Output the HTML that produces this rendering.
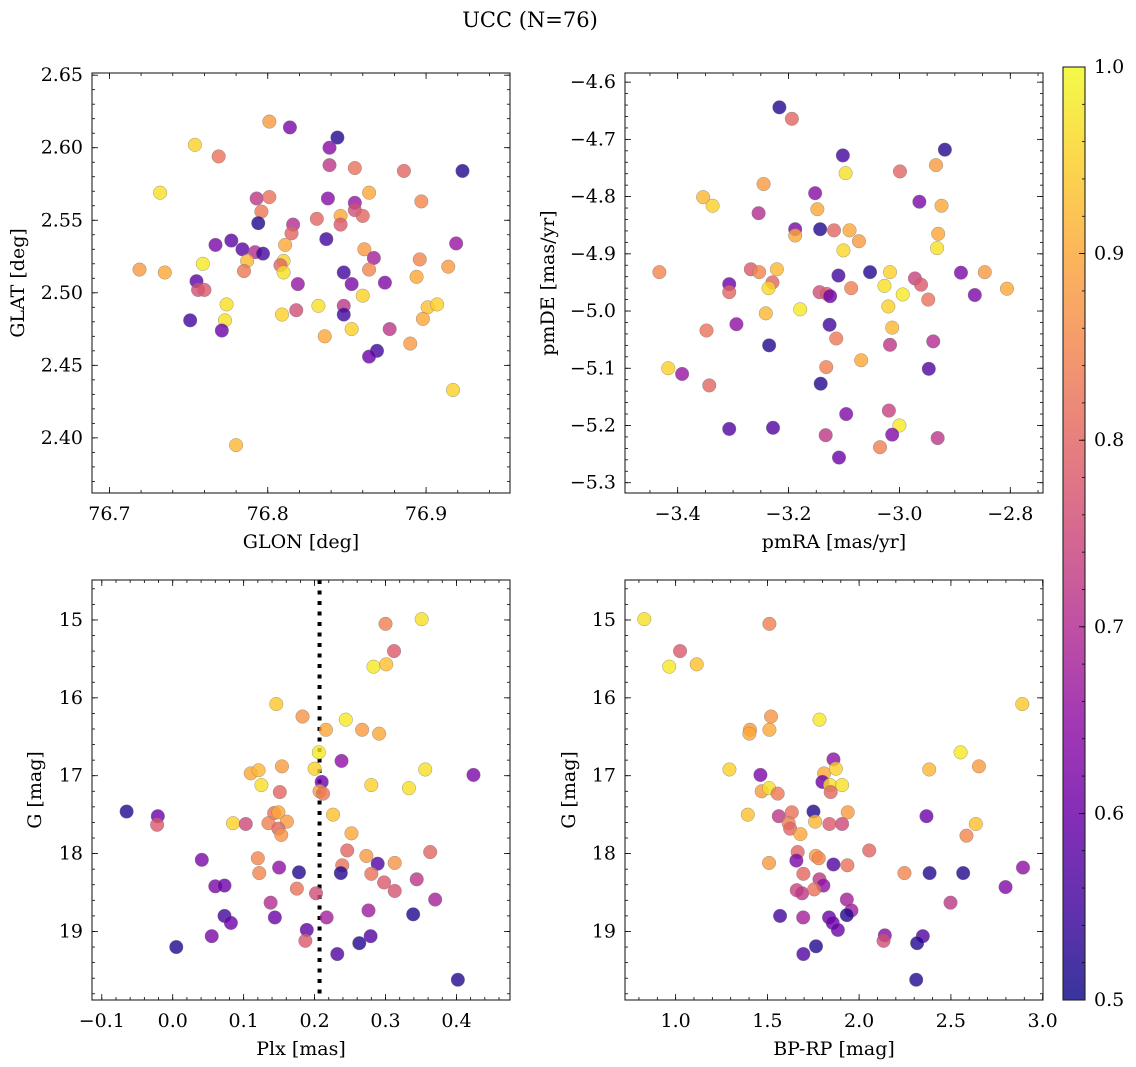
<!DOCTYPE html>
<html><head><meta charset="utf-8">
<style>
html,body{margin:0;padding:0;background:#fff;}
svg{display:block;font-family:"DejaVu Serif","Liberation Serif",serif;}
</style></head>
<body>
<svg id="fig" width="1136" height="1067" viewBox="0 0 1136 1067" xmlns="http://www.w3.org/2000/svg">
<text x="530" y="27" font-size="21" text-anchor="middle">UCC (N=76)</text>
</svg>
<script>
// ---- data: panel 1 (GLON vs GLAT) ----
const glonTL=[76.801,76.814,76.844,76.754,76.839,76.769,76.839,76.855,76.886,76.923,76.732,76.864,76.793,76.801,76.838,76.897,76.855,76.796,76.855,76.860,76.831,76.846,76.846,76.794,76.816,76.815,76.777,76.767,76.837,76.811,76.919,76.784,76.792,76.797,76.861,76.867,76.787,76.810,76.896,76.719,76.735,76.759,76.785,76.808,76.810,76.864,76.914,76.848,76.755,76.756,76.760,76.819,76.853,76.874,76.894,76.860,76.774,76.832,76.848,76.848,76.901,76.907,76.818,76.751,76.773,76.809,76.898,76.771,76.853,76.836,76.877,76.890,76.869,76.864,76.917,76.780];
const glatTL=[2.618,2.614,2.607,2.602,2.600,2.594,2.588,2.586,2.584,2.584,2.569,2.569,2.565,2.566,2.565,2.563,2.562,2.556,2.557,2.553,2.551,2.553,2.547,2.548,2.547,2.541,2.536,2.533,2.537,2.533,2.534,2.530,2.528,2.527,2.530,2.524,2.522,2.522,2.523,2.516,2.514,2.520,2.515,2.519,2.514,2.516,2.518,2.514,2.508,2.502,2.502,2.506,2.506,2.507,2.511,2.498,2.492,2.491,2.491,2.485,2.490,2.492,2.488,2.481,2.481,2.485,2.482,2.474,2.475,2.470,2.475,2.465,2.460,2.456,2.433,2.395];
const probTL=[0.88,0.62,0.52,0.95,0.64,0.82,0.72,0.82,0.80,0.52,0.97,0.9,0.72,0.82,0.64,0.85,0.66,0.83,0.76,0.8,0.8,0.9,0.78,0.52,0.7,0.8,0.58,0.62,0.55,0.9,0.66,0.58,0.7,0.55,0.88,0.68,0.92,0.95,0.85,0.88,0.9,0.98,0.83,0.8,0.97,0.85,0.88,0.55,0.58,0.76,0.78,0.66,0.62,0.63,0.9,0.95,0.97,0.97,0.72,0.55,0.93,0.95,0.76,0.55,0.97,0.95,0.9,0.6,0.95,0.9,0.72,0.88,0.55,0.6,0.95,0.92];
// ---- data: panel 2 (pmRA vs pmDE) ----
const pmraTR=[-3.2165,-3.194,-3.102,-2.918,-2.999,-2.934,-3.097,-3.245,-3.354,-3.337,-3.152,-3.148,-3.254,-2.964,-2.924,-3.188,-3.188,-3.143,-3.118,-3.090,-3.073,-2.930,-3.101,-2.932,-3.433,-3.268,-3.253,-3.221,-3.229,-3.236,-3.307,-3.307,-3.110,-3.053,-3.017,-3.027,-3.144,-3.131,-3.125,-3.087,-2.994,-2.972,-2.961,-2.948,-2.889,-2.864,-2.846,-2.806,-3.179,-3.241,-3.020,-3.013,-3.348,-3.294,-3.126,-3.114,-3.235,-3.017,-2.939,-3.069,-3.132,-2.947,-3.417,-3.392,-3.343,-3.142,-3.096,-3.019,-3.307,-3.228,-3.000,-3.013,-3.133,-2.931,-3.035,-3.109];
const pmdeTR=[-4.644,-4.664,-4.728,-4.718,-4.756,-4.745,-4.759,-4.778,-4.801,-4.816,-4.794,-4.822,-4.829,-4.809,-4.816,-4.857,-4.868,-4.857,-4.859,-4.859,-4.878,-4.865,-4.894,-4.890,-4.932,-4.927,-4.932,-4.927,-4.950,-4.960,-4.953,-4.967,-4.938,-4.932,-4.932,-4.956,-4.967,-4.970,-4.974,-4.960,-4.971,-4.943,-4.954,-4.980,-4.933,-4.972,-4.932,-4.961,-4.997,-5.004,-4.992,-5.029,-5.034,-5.023,-5.024,-5.048,-5.060,-5.059,-5.053,-5.086,-5.098,-5.101,-5.100,-5.110,-5.130,-5.127,-5.180,-5.174,-5.206,-5.204,-5.200,-5.216,-5.217,-5.222,-5.238,-5.256];
const probTR=[0.52,0.8,0.55,0.52,0.8,0.88,0.97,0.88,0.92,0.95,0.64,0.9,0.7,0.62,0.9,0.62,0.9,0.52,0.8,0.9,0.88,0.9,0.96,0.97,0.85,0.78,0.85,0.92,0.8,0.96,0.6,0.8,0.55,0.52,0.95,0.97,0.76,0.78,0.6,0.84,0.98,0.74,0.78,0.82,0.62,0.62,0.88,0.9,0.98,0.92,0.95,0.92,0.82,0.65,0.55,0.83,0.52,0.72,0.7,0.9,0.84,0.57,0.95,0.66,0.8,0.52,0.63,0.74,0.57,0.57,0.98,0.63,0.72,0.72,0.84,0.6];
// ---- data: panel 3 (Plx vs G) ----
const plxBL=[0.351,0.300,0.312,0.283,0.301,0.146,0.183,0.244,0.216,0.267,0.291,0.206,0.238,0.110,0.121,0.154,0.200,0.356,0.424,0.125,0.280,0.333,0.210,0.151,0.207,0.212,-0.065,-0.021,-0.022,0.085,0.103,0.143,0.149,0.135,0.161,0.149,0.153,0.226,0.252,0.246,0.363,0.041,0.120,0.122,0.150,0.178,0.239,0.237,0.273,0.289,0.313,0.280,0.298,0.313,0.344,0.370,0.060,0.073,0.175,0.202,0.138,0.144,0.073,0.082,0.217,0.276,0.339,0.189,0.187,0.055,0.005,0.263,0.279,0.232,0.402];
const gBL=[14.99,15.05,15.40,15.60,15.57,16.08,16.24,16.28,16.41,16.41,16.46,16.70,16.81,16.97,16.93,16.88,16.91,16.92,16.99,17.12,17.12,17.16,17.08,17.21,17.20,17.23,17.46,17.52,17.63,17.61,17.62,17.48,17.47,17.61,17.59,17.68,17.76,17.50,17.74,17.96,17.98,18.08,18.06,18.25,18.18,18.24,18.15,18.25,18.03,18.13,18.12,18.26,18.37,18.48,18.33,18.59,18.42,18.41,18.45,18.51,18.63,18.82,18.80,18.89,18.82,18.73,18.78,18.98,19.12,19.06,19.20,19.15,19.06,19.29,19.62];
const probBL=[0.97,0.84,0.78,0.98,0.93,0.94,0.87,0.98,0.9,0.88,0.9,0.98,0.65,0.9,0.92,0.88,0.95,0.97,0.62,0.97,0.95,0.97,0.6,0.8,0.88,0.83,0.52,0.6,0.78,0.95,0.75,0.82,0.9,0.84,0.88,0.8,0.87,0.93,0.9,0.8,0.8,0.62,0.85,0.85,0.65,0.52,0.82,0.52,0.88,0.57,0.87,0.82,0.78,0.77,0.72,0.68,0.62,0.6,0.82,0.76,0.7,0.6,0.55,0.6,0.68,0.67,0.52,0.58,0.78,0.62,0.52,0.52,0.57,0.57,0.52];
const plxMedian=[0.207];
// ---- data: panel 4 (BP-RP vs G) ----
const bprpBR=[0.829,1.511,1.024,0.965,1.115,2.889,1.520,1.784,1.511,1.405,1.402,2.553,1.860,2.653,1.293,1.462,1.809,1.873,2.382,1.800,1.842,1.907,1.469,1.509,1.556,1.845,1.751,1.393,1.562,2.367,1.633,1.938,1.616,1.760,1.838,1.907,1.624,1.680,2.636,2.585,1.665,2.055,1.509,1.658,1.764,1.780,1.860,1.936,1.696,2.247,2.384,2.567,2.893,1.784,1.805,1.660,1.689,1.755,2.798,1.933,2.498,1.958,1.569,1.695,1.836,1.933,1.856,1.884,2.140,2.133,2.347,2.316,1.765,1.696,2.311];
const gBR=[14.99,15.05,15.40,15.60,15.57,16.08,16.24,16.28,16.41,16.41,16.46,16.70,16.79,16.88,16.92,16.99,16.97,16.91,16.92,17.08,17.12,17.12,17.20,17.16,17.23,17.21,17.46,17.50,17.52,17.52,17.47,17.47,17.61,17.59,17.62,17.62,17.68,17.75,17.62,17.77,17.98,17.96,18.12,18.09,18.03,18.06,18.14,18.15,18.26,18.25,18.25,18.25,18.18,18.33,18.41,18.47,18.51,18.46,18.43,18.59,18.63,18.73,18.80,18.82,18.82,18.79,18.89,18.98,19.05,19.12,19.06,19.15,19.19,19.29,19.62];
const probBR=[0.97,0.84,0.78,0.98,0.93,0.94,0.87,0.98,0.9,0.88,0.9,0.98,0.65,0.88,0.95,0.62,0.9,0.95,0.92,0.6,0.97,0.97,0.88,0.97,0.83,0.8,0.52,0.93,0.72,0.6,0.82,0.88,0.84,0.92,0.78,0.75,0.8,0.9,0.93,0.85,0.8,0.8,0.88,0.62,0.88,0.85,0.57,0.82,0.8,0.85,0.52,0.52,0.65,0.72,0.65,0.74,0.72,0.82,0.63,0.68,0.72,0.67,0.55,0.68,0.6,0.52,0.6,0.6,0.64,0.76,0.57,0.52,0.52,0.57,0.52];
// ---- tick labels ----
const ticksTLx=[76.7,76.8,76.9], ticksTLy=[2.40,2.45,2.50,2.55,2.60,2.65];
const ticksTRx=[-3.4,-3.2,-3.0,-2.8], ticksTRy=[-5.3,-5.2,-5.1,-5.0,-4.9,-4.8,-4.7,-4.6];
const ticksBLx=[-0.1,0.0,0.1,0.2,0.3,0.4], ticksGy=[15,16,17,18,19];
const ticksBRx=[1.0,1.5,2.0,2.5,3.0];
const ticksCbar=[0.5,0.6,0.7,0.8,0.9,1.0];

const TICKFS=19, LABFS=19;
const NS="http://www.w3.org/2000/svg";
const svg=document.getElementById('fig');
function mk(tag,attrs,parent){const e=document.createElementNS(NS,tag);for(const k in attrs)e.setAttribute(k,attrs[k]);(parent||svg).appendChild(e);return e;}
const stops=[[13,8,135],[65,4,157],[106,0,168],[143,13,164],[177,42,144],[204,71,120],[225,100,98],[242,132,75],[252,166,54],[252,206,37],[240,249,33]];
function plasma(t){t=Math.max(0,Math.min(1,t))*10;const i=Math.min(9,Math.floor(t)),f=t-i;const a=stops[i],b=stops[i+1];return 'rgb('+a.map((v,k)=>Math.round(v+(b[k]-v)*f)).join(',')+')';}
function cval(p){return (p-0.5)/0.5;}
function fmt(v,d){return (v<0?'\u2212':'')+Math.abs(v).toFixed(d);}

function panel(cfg){
  const g=mk('g',{});
  
  
  const {x0,x1,y0,y1}=cfg;
  const sx=v=>x0+(v-cfg.xmin)/(cfg.xmax-cfg.xmin)*(x1-x0);
  const sy=cfg.invert? v=>y0+(v-cfg.ymin)/(cfg.ymax-cfg.ymin)*(y1-y0) : v=>y1-(v-cfg.ymin)/(cfg.ymax-cfg.ymin)*(y1-y0);
  const clip='clip-'+cfg.name;
  const cp=mk('clipPath',{id:clip},g);mk('rect',{x:x0,y:y0,width:x1-x0,height:y1-y0},cp);
  const pts=mk('g',{'clip-path':'url(#'+clip+')'},g);
  if(cfg.vline){
    const vl=mk('line',{x1:sx(cfg.vline[0]),x2:sx(cfg.vline[0]),y1:y0,y2:y1,stroke:'#000','stroke-width':4,'stroke-dasharray':'4 6.5'},pts);
    
    
  }
  for(let i=0;i<cfg.xs.length;i++){
    const c=mk('circle',{cx:sx(cfg.xs[i]),cy:sy(cfg.ys[i]),r:6.8,fill:plasma(cval(cfg.cs[i])),'fill-opacity':0.8,stroke:'#777','stroke-width':0.5,'stroke-opacity':0.7},pts);
    
    
  }
  const tk=mk('g',{stroke:'#000','stroke-width':0.8},g);
  for(let v=Math.ceil(cfg.xmin/cfg.xminor-1e-6)*cfg.xminor;v<=cfg.xmax+1e-9;v+=cfg.xminor){const X=sx(v);mk('line',{x1:X,x2:X,y1:y1,y2:y1-3},tk);mk('line',{x1:X,x2:X,y1:y0,y2:y0+3},tk);}
  const ylo=Math.min(cfg.ymin,cfg.ymax),yhi=Math.max(cfg.ymin,cfg.ymax);
  for(let v=Math.ceil(ylo/cfg.yminor-1e-6)*cfg.yminor;v<=yhi+1e-9;v+=cfg.yminor){const Y=sy(v);mk('line',{x1:x0,x2:x0+3,y1:Y,y2:Y},tk);mk('line',{x1:x1,x2:x1-3,y1:Y,y2:Y},tk);}
  cfg.xt.forEach(v=>{const X=sx(v);mk('line',{x1:X,x2:X,y1:y1,y2:y1-6},tk);mk('line',{x1:X,x2:X,y1:y0,y2:y0+6},tk);
    const t=mk('text',{x:X,y:y1+27,'font-size':TICKFS,'text-anchor':'middle'},g);t.textContent=fmt(v,cfg.xd);
    
    });
  cfg.yt.forEach(v=>{const Y=sy(v);mk('line',{x1:x0,x2:x0+6,y1:Y,y2:Y},tk);mk('line',{x1:x1,x2:x1-6,y1:Y,y2:Y},tk);
    const t=mk('text',{x:x0-9,y:Y+6,'font-size':TICKFS,'text-anchor':'end'},g);t.textContent=fmt(v,cfg.yd);
    
    });
  mk('rect',{x:x0,y:y0,width:x1-x0,height:y1-y0,fill:'none',stroke:'#222','stroke-width':1.1},g);
  const xl=mk('text',{x:(x0+x1)/2,y:y1+55,'font-size':LABFS,'text-anchor':'middle'},g);xl.textContent=cfg.xlab;
  
  
  const yx=cfg.ylx, yc=(y0+y1)/2;
  const yl=mk('text',{x:yx,y:yc,'font-size':LABFS,'text-anchor':'middle',transform:'rotate(-90 '+yx+' '+yc+')'},g);yl.textContent=cfg.ylab;
  
  
}
panel({name:'panel-glon-glat',x0:92,x1:510,y0:73,y1:493,xmin:76.689,xmax:76.953,ymin:2.362,ymax:2.6515,xs:glonTL,ys:glatTL,cs:probTL,xt:ticksTLx,yt:ticksTLy,xd:1,yd:2,xminor:0.02,yminor:0.01,xlab:'GLON [deg]',ylab:'GLAT [deg]',ylx:24});
panel({name:'panel-pmra-pmde',x0:625,x1:1043,y0:73,y1:493,xmin:-3.495,xmax:-2.741,ymin:-5.318,ymax:-4.584,xs:pmraTR,ys:pmdeTR,cs:probTR,xt:ticksTRx,yt:ticksTRy,xd:1,yd:1,xminor:0.05,yminor:0.02,xlab:'pmRA [mas/yr]',ylab:'pmDE [mas/yr]',ylx:554});
panel({name:'panel-plx-g',x0:92,x1:510,y0:580,y1:1000,xmin:-0.1138,xmax:0.4755,ymin:14.487,ymax:19.88,invert:true,xs:plxBL,ys:gBL,cs:probBL,xt:ticksBLx,yt:ticksGy,xd:1,yd:0,xminor:0.02,yminor:0.2,xlab:'Plx [mas]',ylab:'G [mag]',ylx:41,vline:plxMedian});
panel({name:'panel-bprp-g',x0:625,x1:1043,y0:580,y1:1000,xmin:0.724,xmax:3.002,ymin:14.487,ymax:19.88,invert:true,xs:bprpBR,ys:gBR,cs:probBR,xt:ticksBRx,yt:ticksGy,xd:1,yd:0,xminor:0.1,yminor:0.2,xlab:'BP-RP [mag]',ylab:'G [mag]',ylx:575});

(function(){
  const cx0=1063,cx1=1085,cy0=67,cy1=1000;
  const g=mk('g',{});
  
  
  const defs=mk('defs',{},g);
  const lg=mk('linearGradient',{id:'cbgrad',x1:0,y1:1,x2:0,y2:0},defs);
  for(let i=0;i<=20;i++){mk('stop',{offset:(i/20),'stop-color':plasma(i/20),'stop-opacity':0.82},lg);}
  mk('rect',{x:cx0,y:cy0,width:cx1-cx0,height:cy1-cy0,fill:'url(#cbgrad)'},g);
  const sy=v=>cy1-(v-0.5)/0.5*(cy1-cy0);
  const tk=mk('g',{stroke:'#000','stroke-width':0.8},g);
  for(let v=0.5;v<=1.0001;v+=0.02){mk('line',{x1:cx1,x2:cx1-3,y1:sy(v),y2:sy(v)},tk);}
  ticksCbar.forEach(v=>{const Y=sy(v);mk('line',{x1:cx1,x2:cx1-6,y1:Y,y2:Y},tk);
    const t=mk('text',{x:cx1+9,y:Y+6,'font-size':TICKFS},g);t.textContent=v.toFixed(1);
    
    });
  mk('rect',{x:cx0,y:cy0,width:cx1-cx0,height:cy1-cy0,fill:'none',stroke:'#222','stroke-width':1.1},g);
})();
</script>
</body></html>
